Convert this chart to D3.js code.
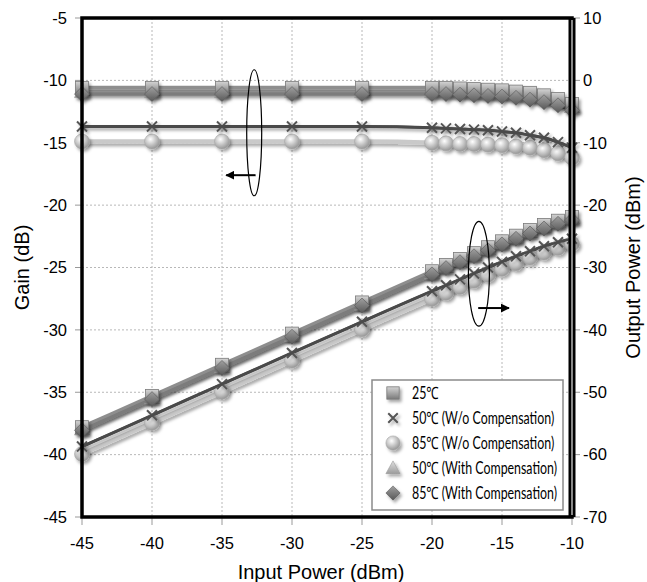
<!DOCTYPE html>
<meta charset="utf-8">
<style>
body { margin: 0; background: #fff; }
svg text { fill: #000; }
.tick-label { font: 16.5px "Liberation Sans", Arial, sans-serif; }
.axis-title { font: 20px "Liberation Sans", Arial, sans-serif; }
.legend text { font: 17px Lato, "Noto Sans", sans-serif; }
.grid line { stroke: #b8b8b8; stroke-dasharray: 2,2; stroke-width: 1; }
</style>
<svg width="647" height="582"></svg>
<script src="https://d3js.org/d3.v7.min.js"></script>
<script>
// input power (dBm)
var inputPower = [-45, -40, -35, -30, -25, -20, -19, -18, -17, -16, -15, -14, -13, -12, -11, -10];

// gain (dB), left axis
var gain25 = [-10.6, -10.6, -10.6, -10.6, -10.6, -10.6, -10.6, -10.65, -10.7, -10.75, -10.8, -10.9, -11.0, -11.2, -11.5, -11.9];
var gain50wo = [-13.7, -13.7, -13.7, -13.7, -13.7, -13.8, -13.85, -13.9, -13.95, -14.0, -14.1, -14.2, -14.4, -14.6, -14.95, -15.4];
var gain85wo = [-14.9, -14.9, -14.9, -14.9, -14.9, -15.0, -15.05, -15.1, -15.1, -15.15, -15.2, -15.3, -15.4, -15.6, -15.85, -16.2];
var gain50w = [-10.9, -10.9, -10.9, -10.9, -10.9, -10.9, -10.9, -10.9, -10.95, -11.0, -11.05, -11.15, -11.25, -11.4, -11.65, -12.1];
var gain85w = [-11.1, -11.1, -11.1, -11.1, -11.1, -11.1, -11.1, -11.15, -11.2, -11.25, -11.3, -11.4, -11.55, -11.75, -12.0, -12.4];

// output power (dBm), right axis
var pout25 = [-55.6, -50.6, -45.6, -40.6, -35.6, -30.6, -29.6, -28.65, -27.7, -26.75, -25.8, -24.9, -24.0, -23.2, -22.5, -21.9];
var pout50wo = [-58.7, -53.7, -48.7, -43.7, -38.7, -33.8, -32.85, -31.9, -30.95, -30.0, -29.1, -28.2, -27.4, -26.6, -25.95, -25.4];
var pout85wo = [-59.9, -54.9, -49.9, -44.9, -39.9, -35.0, -34.05, -33.1, -32.1, -31.15, -30.2, -29.3, -28.4, -27.6, -26.85, -26.2];
var pout50w = [-55.9, -50.9, -45.9, -40.9, -35.9, -30.9, -29.9, -28.9, -27.95, -27.0, -26.05, -25.15, -24.25, -23.4, -22.65, -22.1];
var pout85w = [-56.1, -51.1, -46.1, -41.1, -36.1, -31.1, -30.1, -29.15, -28.2, -27.25, -26.3, -25.4, -24.55, -23.75, -23.0, -22.4];

var xTicks = [-45, -40, -35, -30, -25, -20, -15, -10];
var gainTicks = [-45, -40, -35, -30, -25, -20, -15, -10, -5];
var poutTicks = [-70, -60, -50, -40, -30, -20, -10, 0, 10];

var seriesNames = ["25\u2103", "50\u2103 (W/o Compensation)", "85\u2103 (W/o Compensation)",
                   "50\u2103 (With Compensation)", "85\u2103 (With Compensation)"];

var svg = d3.select("svg");
var mLeft = 82, mRight = 572, mTop = 18, mBottom = 517;

var x = d3.scaleLinear().domain([-45, -10]).range([mLeft, mRight]);
var yG = d3.scaleLinear().domain([-45, -5]).range([mBottom, mTop]);
var yP = d3.scaleLinear().domain([-70, 10]).range([mBottom, mTop]);

var defs = svg.append("defs");
var f = defs.append("filter").attr("id", "shadow").attr("x", "-50%").attr("y", "-50%").attr("width", "200%").attr("height", "200%");
f.append("feDropShadow").attr("dx", 2).attr("dy", 2.5).attr("stdDeviation", 1.6).attr("flood-opacity", 0.35);

function radial(id, c0, c1) {
  var g = defs.append("radialGradient").attr("id", id).attr("cx", "40%").attr("cy", "35%").attr("r", "65%");
  g.append("stop").attr("offset", "0%").attr("stop-color", c0);
  g.append("stop").attr("offset", "100%").attr("stop-color", c1);
}
function linear(id, c0, c1) {
  var g = defs.append("linearGradient").attr("id", id).attr("x1", 0).attr("y1", 0).attr("x2", 0).attr("y2", 1);
  g.append("stop").attr("offset", "0%").attr("stop-color", c0);
  g.append("stop").attr("offset", "100%").attr("stop-color", c1);
}
radial("gCircle", "#ffffff", "#979797");
linear("gSquare", "#d4d4d4", "#7a7a7a");
linear("gDiamond", "#a0a0a0", "#585858");
linear("gTri", "#e0e0e0", "#9c9c9c");

defs.append("marker").attr("id", "arrow").attr("viewBox", "0 0 10 10").attr("refX", 9).attr("refY", 5)
  .attr("markerWidth", 9).attr("markerHeight", 9).attr("markerUnits", "userSpaceOnUse")
  .attr("orient", "auto")
  .append("path").attr("d", "M0,0L10,5L0,10Z").attr("fill", "#000").attr("stroke", "none");

// grid
var grid = svg.append("g").attr("class", "grid");
grid.selectAll(".v").data(xTicks.slice(1, -1)).enter().append("line")
  .attr("x1", x).attr("x2", x).attr("y1", mTop).attr("y2", mBottom);
grid.selectAll(".h").data(gainTicks.slice(1, -1)).enter().append("line")
  .attr("y1", yG).attr("y2", yG).attr("x1", mLeft).attr("x2", mRight);

// tick marks and labels
var axes = svg.append("g");
axes.selectAll(".lt").data(gainTicks).enter().append("line")
  .attr("x1", mLeft - 7).attr("x2", mLeft).attr("y1", yG).attr("y2", yG).attr("stroke", "#999");
axes.selectAll(".ltl").data(gainTicks).enter().append("text").attr("class", "tick-label")
  .attr("x", mLeft - 15).attr("y", yG).attr("dy", "0.35em").attr("text-anchor", "end").text(function(d) { return d; });
axes.selectAll(".rt").data(poutTicks).enter().append("line")
  .attr("x1", mRight).attr("x2", mRight + 8).attr("y1", yP).attr("y2", yP).attr("stroke", "#999");
axes.selectAll(".rtl").data(poutTicks).enter().append("text").attr("class", "tick-label")
  .attr("x", mRight + 11).attr("y", yP).attr("dy", "0.35em").attr("text-anchor", "start").text(function(d) { return d; });
axes.selectAll(".bt").data(xTicks).enter().append("line")
  .attr("x1", x).attr("x2", x).attr("y1", mBottom).attr("y2", mBottom + 8).attr("stroke", "#999");
axes.selectAll(".btl").data(xTicks).enter().append("text").attr("class", "tick-label")
  .attr("x", x).attr("y", mBottom + 32).attr("text-anchor", "middle").text(function(d) { return d; });

svg.append("text").attr("class", "axis-title").attr("text-anchor", "middle")
  .attr("transform", "translate(29," + ((mTop + mBottom) / 2) + ") rotate(-90)").text("Gain (dB)");
svg.append("text").attr("class", "axis-title").attr("text-anchor", "middle")
  .attr("transform", "translate(640," + ((mTop + mBottom) / 2) + ") rotate(-90)").text("Output Power (dBm)");
svg.append("text").attr("class", "axis-title").attr("text-anchor", "middle")
  .attr("x", (mLeft + mRight) / 2 - 6).attr("y", 579).text("Input Power (dBm)");

// series
var styles = [
  {line: "#8e8e8e", w: 4, marker: "square"},
  {line: "#4a4a4a", w: 3, marker: "x"},
  {line: "#c9c9c9", w: 4.5, marker: "circle"},
  {line: "#b9b9b9", w: 4, marker: "tri"},
  {line: "#7b7b7b", w: 3.5, marker: "diamond"}
];
var gainSets = [gain25, gain50wo, gain85wo, gain50w, gain85w];
var poutSets = [pout25, pout50wo, pout85wo, pout50w, pout85w];

function drawMarker(g, type, cx, cy, scale) {
  var s = scale || 1;
  if (type === "circle") {
    g.append("circle").attr("cx", cx).attr("cy", cy).attr("r", 7.5 * s).attr("fill", "url(#gCircle)")
      .attr("stroke", "#a8a8a8").attr("stroke-width", 0.6).attr("filter", "url(#shadow)");
  } else if (type === "square") {
    g.append("rect").attr("x", cx - 6.5 * s).attr("y", cy - 6.5 * s).attr("width", 13 * s).attr("height", 13 * s)
      .attr("fill", "url(#gSquare)").attr("stroke", "#7a7a7a").attr("stroke-width", 0.8).attr("filter", "url(#shadow)");
  } else if (type === "diamond") {
    var r = 7.5 * s;
    g.append("path").attr("d", "M" + cx + "," + (cy - r) + "L" + (cx + r) + "," + cy + "L" + cx + "," + (cy + r) + "L" + (cx - r) + "," + cy + "Z")
      .attr("fill", "url(#gDiamond)").attr("stroke", "#555").attr("stroke-width", 0.6).attr("filter", "url(#shadow)");
  } else if (type === "tri") {
    var t = 7.5 * s;
    g.append("path").attr("d", "M" + cx + "," + (cy - t) + "L" + (cx + t) + "," + (cy + t * 0.8) + "L" + (cx - t) + "," + (cy + t * 0.8) + "Z")
      .attr("fill", "url(#gTri)").attr("stroke", "#999").attr("stroke-width", 0.6).attr("filter", "url(#shadow)");
  } else if (type === "x") {
    var k = 5 * s;
    g.append("path").attr("d", "M" + (cx - k) + "," + (cy - k) + "L" + (cx + k) + "," + (cy + k) + "M" + (cx + k) + "," + (cy - k) + "L" + (cx - k) + "," + (cy + k))
      .attr("stroke", "#555").attr("stroke-width", 2).attr("fill", "none").attr("filter", "url(#shadow)");
  }
}

var plot = svg.append("g");
var lineG = d3.line().x(function(d, i) { return x(inputPower[i]); }).y(function(d) { return yG(d); }).curve(d3.curveMonotoneX);
var lineP = d3.line().x(function(d, i) { return x(inputPower[i]); }).y(function(d) { return yP(d); }).curve(d3.curveMonotoneX);

var drawOrder = [2, 3, 0, 4, 1];
drawOrder.forEach(function(k) {
  plot.append("path").attr("d", lineG(gainSets[k])).attr("fill", "none")
    .attr("stroke", styles[k].line).attr("stroke-width", styles[k].w).attr("filter", "url(#shadow)");
  plot.append("path").attr("d", lineP(poutSets[k])).attr("fill", "none")
    .attr("stroke", styles[k].line).attr("stroke-width", styles[k].w).attr("filter", "url(#shadow)");
});
drawOrder.forEach(function(k) {
  var g = plot.append("g");
  gainSets[k].forEach(function(v, i) { drawMarker(g, styles[k].marker, x(inputPower[i]), yG(v)); });
  poutSets[k].forEach(function(v, i) { drawMarker(g, styles[k].marker, x(inputPower[i]), yP(v)); });
});
// 50C w/o line drawn again on top near markers
plot.append("path").attr("d", lineG(gain50wo)).attr("fill", "none").attr("stroke", styles[1].line).attr("stroke-width", 2.5);
plot.append("path").attr("d", lineP(pout50wo)).attr("fill", "none").attr("stroke", styles[1].line).attr("stroke-width", 2.5);

// frame
svg.append("rect").attr("x", mLeft).attr("y", mTop).attr("width", mRight - mLeft).attr("height", mBottom - mTop)
  .attr("fill", "none").attr("stroke", "#000").attr("stroke-width", 3.5);
svg.append("line").attr("x1", mRight).attr("x2", mRight).attr("y1", mTop).attr("y2", mBottom)
  .attr("stroke", "#000").attr("stroke-width", 7);
svg.append("line").attr("x1", mRight).attr("x2", mRight).attr("y1", mTop + 2).attr("y2", mBottom - 2)
  .attr("stroke", "#888").attr("stroke-width", 2);

// annotations
var ann = svg.append("g").attr("fill", "none").attr("stroke", "#000").attr("stroke-width", 1.2);
ann.append("ellipse").attr("cx", x(-32.7)).attr("cy", yG(-14.2)).attr("rx", 7.5).attr("ry", yG(-19.25) - yG(-14.2));
ann.append("line").attr("x1", x(-32.6)).attr("x2", x(-34.7)).attr("y1", yG(-17.6)).attr("y2", yG(-17.6))
  .attr("stroke-width", 2).attr("marker-end", "url(#arrow)");
ann.append("ellipse").attr("cx", x(-16.65)).attr("cy", yP(-31.0)).attr("rx", 10.5).attr("ry", yP(-39.4) - yP(-31.0));
ann.append("line").attr("x1", x(-16.7)).attr("x2", x(-14.5)).attr("y1", yP(-36.5)).attr("y2", yP(-36.5))
  .attr("stroke-width", 2).attr("marker-end", "url(#arrow)");

// legend
var lg = svg.append("g").attr("class", "legend");
lg.append("rect").attr("x", 372).attr("y", 380).attr("width", 191).attr("height", 130)
  .attr("fill", "#fff").attr("stroke", "#8a8a8a").attr("stroke-width", 1.5);
var texts = [];
seriesNames.forEach(function(name, k) {
  var yy = 393 + k * 25;
  lg.append("line").attr("x1", 377).attr("x2", 409).attr("y1", yy).attr("y2", yy)
    .attr("stroke", styles[k].line).attr("stroke-width", styles[k].w).attr("filter", "url(#shadow)");
  drawMarker(lg, styles[k].marker, 393, yy, 0.95);
  texts.push(lg.append("text").attr("x", 412).attr("y", yy).attr("dy", "0.36em").text(name));
});
// narrow the text so the longest entry fits the box like the condensed face did
var longest = d3.max(texts, function(t) { return t.node().getComputedTextLength(); });
var squeeze = 145 / longest;
texts.forEach(function(t) {
  t.attr("textLength", t.node().getComputedTextLength() * squeeze).attr("lengthAdjust", "spacingAndGlyphs");
});
</script>
